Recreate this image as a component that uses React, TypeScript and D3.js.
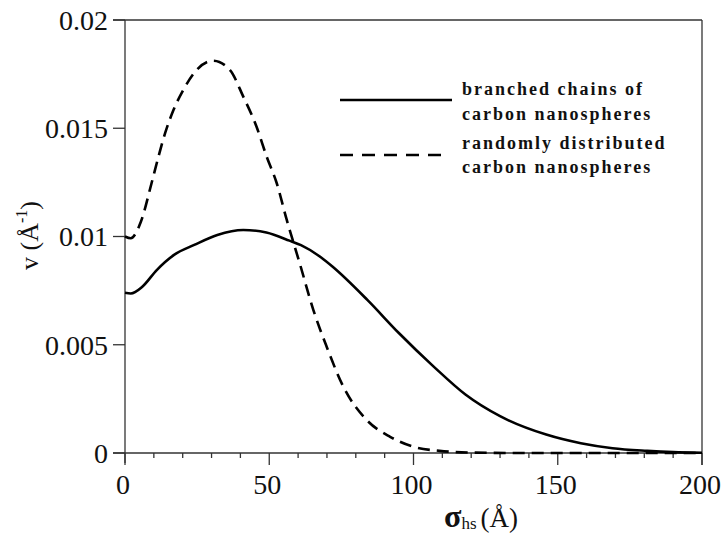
import React from "react";
import * as d3 from "d3";

// Probability density of hard-sphere diameters, two structural models
const sigmaBranched = [0, 2, 6, 11, 17, 24, 32, 41, 49, 57, 61, 68, 72, 84, 95, 107, 118, 130, 146, 158, 169, 181, 190, 200];
const vBranched = [0.0074, 0.00737, 0.00768, 0.00845, 0.00915, 0.00961, 0.01007, 0.0103, 0.01018, 0.00981, 0.0096, 0.00903, 0.0086, 0.00707, 0.00553, 0.00399, 0.0027, 0.0017, 0.00085, 0.00045, 0.00022, 0.0001, 0.00004, 0.00001];

const sigmaRandom = [0, 2, 5.5, 9.2, 11.6, 13.9, 16.8, 20.2, 24.8, 30.6, 36.4, 41, 45.6, 49.1, 52.6, 56, 60.7, 65.3, 69.9, 75.7, 83.8, 91.9, 99.9, 109, 120, 140, 200];
const vRandom = [0.01, 0.00992, 0.01068, 0.01246, 0.01369, 0.01477, 0.01584, 0.01677, 0.01769, 0.01812, 0.01769, 0.01646, 0.01507, 0.01369, 0.01246, 0.0108, 0.0087, 0.0066, 0.00491, 0.00306, 0.00152, 0.00075, 0.00029, 0.0001, 0.00002, 0, 0];

const xTicks = [0, 50, 100, 150, 200];
const xMinorTicks = d3.range(0, 201, 10);
const yTicks = [0, 0.005, 0.01, 0.015, 0.02];
const yTickLabels = ["0", "0.005", "0.01", "0.015", "0.02"];

const legendLabels = [
  ["branched chains of", "carbon nanospheres"],
  ["randomly distributed", "carbon nanospheres"],
];

const W = 721;
const H = 535;
const left = 125;
const right = 702;
const top = 20;
const bottom = 453;

const serif = "'Liberation Serif', 'Times New Roman', serif";
const axisColor = "#333";

export default function App() {
  const x = d3.scaleLinear().domain([0, 200]).range([left, right]);
  const y = d3.scaleLinear().domain([0, 0.02]).range([bottom, top]);

  const line = d3
    .line<[number, number]>()
    .x((d) => x(d[0]))
    .y((d) => y(d[1]))
    .curve(d3.curveMonotoneX);

  const branched = line(sigmaBranched.map((s, i) => [s, vBranched[i]] as [number, number])) || "";
  const random = line(sigmaRandom.map((s, i) => [s, vRandom[i]] as [number, number])) || "";

  return (
    <svg
      width={W}
      height={H}
      viewBox={`0 0 ${W} ${H}`}
      style={{ position: "absolute", left: 0, top: 0, background: "#fff" }}
    >
      <rect x={0} y={0} width={W} height={H} fill="#fff" />

      {/* frame */}
      <g stroke={axisColor} strokeWidth={1.3} fill="none">
        <line x1={left} x2={left} y1={top} y2={bottom + 10} />
        <line x1={left - 12} x2={right} y1={bottom} y2={bottom} />
        <line x1={left - 12} x2={right} y1={top} y2={top} />
        <line x1={right} x2={right} y1={top} y2={bottom + 12} />
        {xMinorTicks.map((t) => (
          <line key={"mx" + t} x1={x(t)} x2={x(t)} y1={bottom} y2={bottom + (t % 50 === 0 ? 12 : 5)} />
        ))}
        {yTicks.map((t) => (
          <line key={"ty" + t} x1={left - 12} x2={left} y1={y(t)} y2={y(t)} />
        ))}
      </g>

      {/* tick labels */}
      <g fontFamily={serif} fontSize={28} fill="#111">
        {yTicks.map((t, i) => (
          <text key={"ly" + t} x={108} y={y(t)} dy="0.35em" textAnchor="end">
            {yTickLabels[i]}
          </text>
        ))}
        {xTicks.map((t) => (
          <text key={"lx" + t} x={x(t) - 2} y={494} textAnchor="middle">
            {t}
          </text>
        ))}
      </g>

      {/* curves */}
      <path d={branched} fill="none" stroke="#000" strokeWidth={2.6} />
      <path d={random} fill="none" stroke="#000" strokeWidth={2.6} strokeDasharray="12,7" />

      {/* legend */}
      <line x1={340} x2={452} y1={100} y2={100} stroke="#000" strokeWidth={2.6} />
      <line x1={340} x2={441} y1={155} y2={155} stroke="#000" strokeWidth={2.6} strokeDasharray="13,9" />
      <g fontFamily={serif} fontSize={18} fontWeight="bold" letterSpacing={2} fill="#111">
        <text x={462} y={95}>{legendLabels[0][0]}</text>
        <text x={462} y={120}>{legendLabels[0][1]}</text>
        <text x={462} y={149}>{legendLabels[1][0]}</text>
        <text x={462} y={173}>{legendLabels[1][1]}</text>
      </g>

      {/* axis titles */}
      <text x={444} y={527} fontFamily={serif} fill="#111">
        <tspan fontSize={32} fontWeight="bold">σ</tspan>
        <tspan fontSize={17} dy={2}>hs</tspan>
        <tspan fontSize={27} dy={-2} dx={4}>(Å)</tspan>
      </text>
      <text
        transform="translate(38,270) rotate(-90)"
        fontFamily={serif}
        fontSize={26}
        fill="#111"
      >
        <tspan>v (Å</tspan>
        <tspan fontSize={16} dy={-11}>-1</tspan>
        <tspan dy={11}>)</tspan>
      </text>
    </svg>
  );
}
